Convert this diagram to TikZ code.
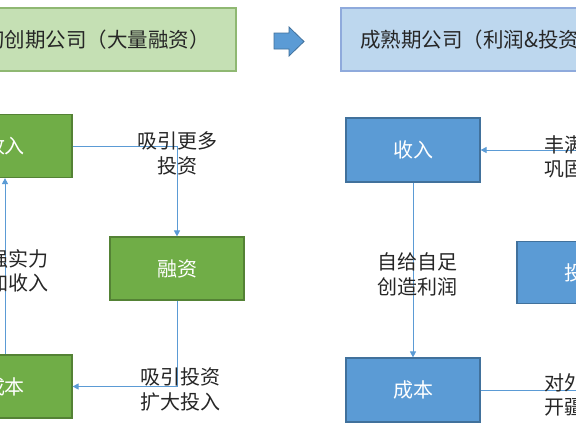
\documentclass[tikz,border=0pt]{standalone}
\usepackage{fontspec}
\setmainfont{Noto Sans CJK SC}
\usetikzlibrary{arrows.meta}
\definecolor{lgfill}{HTML}{C5E0B4}
\definecolor{lgdraw}{HTML}{8FB872}
\definecolor{dgfill}{HTML}{70AD47}
\definecolor{dgdraw}{HTML}{548235}
\definecolor{lbfill}{HTML}{BDD7EE}
\definecolor{lbdraw}{HTML}{8FAADC}
\definecolor{dbfill}{HTML}{5B9BD5}
\definecolor{dbdraw}{HTML}{41719C}
\definecolor{conncol}{HTML}{5B9BD5}
\definecolor{txt}{HTML}{262626}
\tikzset{
  titlebox/.style={draw, line width=1.2pt, minimum height=63pt, inner sep=0pt,
    font=\fontsize{20.5}{24}\selectfont, text=txt},
  gbox/.style={draw=dgdraw, fill=dgfill, line width=1.2pt, minimum width=134pt,
    minimum height=63pt, inner sep=0pt, text=white, font=\fontsize{20}{24}\selectfont},
  bbox/.style={draw=dbdraw, fill=dbfill, line width=1.2pt, minimum width=134pt,
    minimum height=64pt, inner sep=0pt, text=white, font=\fontsize{20}{24}\selectfont},
  lbl/.style={align=center, inner sep=0pt, text=txt, font=\fontsize{20}{24.5}\selectfont},
  conn/.style={draw=conncol, line width=0.9pt,
    -{Triangle[length=6pt,width=6pt]}}
}
\begin{document}
\begin{tikzpicture}[x=1pt,y=-1pt]
\useasboundingbox (0,0) rectangle (576,432);
\clip (0,0) rectangle (576,432);
\fill[white] (0,0) rectangle (576,432);
% title boxes
\node[titlebox, draw=lgdraw, fill=lgfill, minimum width=278pt] (t1) at (97,39.5) {初创期公司（大量融资）};
\node[titlebox, draw=lbdraw, fill=lbfill, minimum width=278pt] (t2) at (480,39.5) {成熟期公司（利润\&投资）};
% block arrow
\filldraw[fill=dbfill, draw=dbdraw, line width=0.8pt]
  (274,33) -- (289,33) -- (289,27) -- (304,41.5) -- (289,56) -- (289,49) -- (274,49) -- cycle;
% left cycle
\node[gbox] (s1) at (5,146) {收入};
\node[gbox] (r) at (177,268.5) {融资};
\node[gbox] (c1) at (5,386.5) {成本};
\draw[conn] (s1.east) -| (r.north);
\draw[conn] (r.south) |- (c1.east);
\draw[conn] (c1.north) -- (s1.south);
\node[lbl] (l1) at (177,153.5) {吸引更多\\投资};
\node[lbl] (l2) at (9,271) {增强实力\\增加收入};
\node[lbl] (l3) at (180,389.5) {吸引投资\\扩大投入};
% right cycle
\node[bbox] (s2) at (413,150) {收入};
\node[bbox] (c2) at (413,390) {成本};
\node[bbox, minimum height=62pt] (i2) at (584,272.5) {投资};
\draw[conn] (s2.south) -- (c2.north);
\draw[conn] (i2.north) |- (s2.east);
\draw[conn] (c2.east) -| (i2.south);
\node[lbl] (l4) at (417,274.5) {自给自足\\创造利润};
\node[lbl, anchor=west, align=left] (l5) at (544,157) {丰满羽翼\\巩固地位};
\node[lbl, anchor=west, align=left] (l6) at (544,395) {对外投资\\开疆拓土};
\end{tikzpicture}
\end{document}
